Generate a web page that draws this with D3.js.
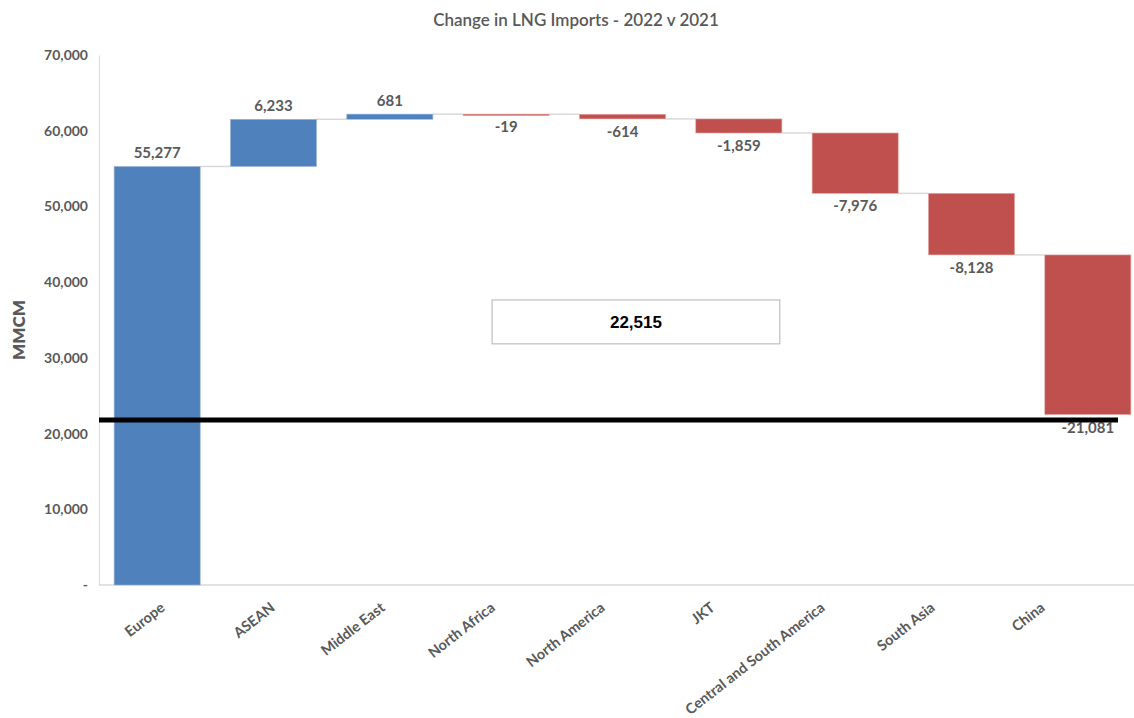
<!DOCTYPE html>
<html>
<head>
<meta charset="utf-8">
<script src="https://cdn.jsdelivr.net/npm/d3@7"></script>
<style>
  body { margin: 0; background: #fff; }
  svg { display: block; }
  svg text { font-family: Lato, "Open Sans", sans-serif; }
</style>
</head>
<body>
<div id="chart"></div>
<script>
// data
const categories = ["Europe", "ASEAN", "Middle East", "North Africa", "North America",
                    "JKT", "Central and South America", "South Asia", "China"];
const changes = [55277, 6233, 681, -19, -614, -1859, -7976, -8128, -21081];
const yTicks = [0, 10000, 20000, 30000, 40000, 50000, 60000, 70000];
const totalValue = 22515;
const referenceValue = 21800;

const width = 1134, height = 718;
const grey = "#595959";
const blue = "#4F81BD", red = "#C0504D";

// plain hyphen for negatives, like the original
const fmt = d3.formatLocale({ decimal: ".", thousands: ",", grouping: [3], currency: ["", ""], minus: "-" }).format(",");

let svg = d3.select("#chart").append("svg")
    .attr("width", width)
    .attr("height", height);

let x = d3.scaleBand()
    .domain(categories)
    .range([99, 1146])
    .paddingInner(0.26)
    .paddingOuter(0.13);

// the category labels sit on a slightly tighter pitch than the bars
let xLabel = d3.scaleBand()
    .domain(categories)
    .range([99, 1089]);

let y = d3.scaleLinear()
    .domain([0, 70000])
    .range([585, 55]);

// running totals for the waterfall
let steps = [];
let level = 0;
changes.forEach(function (v, i) {
    steps.push({ name: categories[i], value: v, start: level, end: level + v });
    level += v;
});

svg.append("text")
    .attr("x", 576)
    .attr("y", 26)
    .attr("text-anchor", "middle")
    .attr("fill", grey)
    .style("font-size", "17px")
    .style("font-weight", "600")
    .text("Change in LNG Imports - 2022 v 2021");

// y axis
let yAxis = svg.append("g")
    .attr("transform", "translate(99,0)")
    .call(d3.axisLeft(y).tickValues(yTicks).tickSize(0).tickPadding(11)
        .tickFormat(function (d) { return d === 0 ? "-" : fmt(d); }));
yAxis.select(".domain").attr("stroke", "#d9d9d9");
yAxis.selectAll("text")
    .attr("fill", grey)
    .style("font-size", "14px")
    .style("font-weight", "700");

svg.append("text")
    .attr("transform", "translate(25,330) rotate(-90)")
    .attr("text-anchor", "middle")
    .attr("fill", grey)
    .style("font-size", "17px")
    .style("font-weight", "800")
    .text("MMCM");

// x axis line
svg.append("line")
    .attr("x1", 99).attr("x2", width)
    .attr("y1", y(0)).attr("y2", y(0))
    .attr("stroke", "#d9d9d9")
    .attr("stroke-width", 1.5);

let xAxis = svg.append("g")
    .attr("transform", "translate(3,598)")
    .call(d3.axisBottom(xLabel).tickSize(0).tickPadding(0));
xAxis.select(".domain").remove();
xAxis.selectAll("text")
    .attr("fill", grey)
    .style("font-size", "14.5px")
    .style("font-weight", "700")
    .attr("text-anchor", "end")
    .attr("dy", "1em")
    .attr("transform", "rotate(-38)");

// connectors
svg.append("g").selectAll("line")
    .data(steps.slice(0, -1))
    .enter()
    .append("line")
    .attr("x1", function (d) { return x(d.name) + x.bandwidth(); })
    .attr("x2", function (d, i) { return x(categories[i + 1]); })
    .attr("y1", function (d) { return y(d.end); })
    .attr("y2", function (d) { return y(d.end); })
    .attr("stroke", "#d9d9d9")
    .attr("stroke-width", 1.5);

// bars
svg.append("g").selectAll("rect")
    .data(steps)
    .enter()
    .append("rect")
    .attr("x", function (d) { return x(d.name); })
    .attr("width", x.bandwidth())
    .attr("y", function (d) { return y(Math.max(d.start, d.end)); })
    .attr("height", function (d) { return Math.max(1.5, Math.abs(y(d.start) - y(d.end))); })
    .attr("fill", function (d) { return d.value >= 0 ? blue : red; })
    .attr("stroke", function (d) { return d.value >= 0 ? "#9db6d8" : "#e3a6a4"; })
    .attr("stroke-width", 0.6);

// value labels
svg.append("g").selectAll("text")
    .data(steps)
    .enter()
    .append("text")
    .attr("x", function (d) { return x(d.name) + x.bandwidth() / 2; })
    .attr("y", function (d) {
        return d.value >= 0 ? y(d.end) - 8 : y(d.end) + 18;
    })
    .attr("text-anchor", "middle")
    .attr("fill", grey)
    .style("font-size", "15px")
    .style("font-weight", "700")
    .text(function (d) { return fmt(d.value); });

// total box
let box = svg.append("g");
box.append("rect")
    .attr("x", x("North Africa") + 29)
    .attr("width", x("JKT") + 84 - x("North Africa") - 29)
    .attr("y", y(37650))
    .attr("height", y(31850) - y(37650))
    .attr("fill", "#fff")
    .attr("stroke", "#bfbfbf")
    .attr("stroke-width", 1.2);
box.append("text")
    .attr("x", (x("North Africa") + 29 + x("JKT") + 84) / 2)
    .attr("y", y(34750) + 6)
    .attr("text-anchor", "middle")
    .attr("fill", "#000")
    .style("font-family", "'Liberation Sans', Arial, sans-serif")
    .style("font-size", "17px")
    .style("font-weight", "700")
    .text(fmt(totalValue));

// black reference line
svg.append("line")
    .attr("x1", 99).attr("x2", 1118)
    .attr("y1", y(referenceValue)).attr("y2", y(referenceValue))
    .attr("stroke", "#000")
    .attr("stroke-width", 5);
</script>
</body>
</html>
